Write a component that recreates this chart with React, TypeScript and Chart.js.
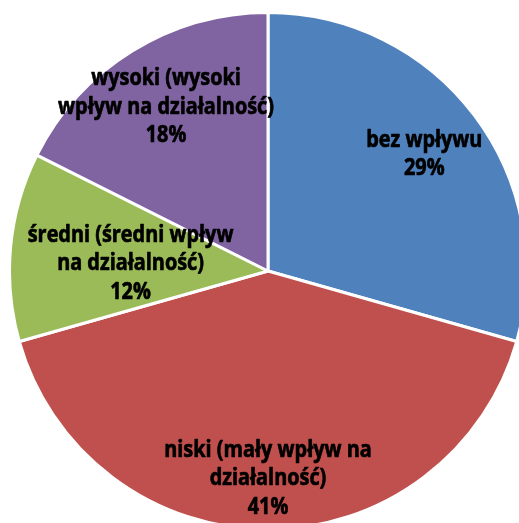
import React, { useEffect, useRef } from "react";
import { Chart, registerables } from "chart.js";

Chart.register(...registerables);

const categories = ["bez wpływu", "niski (mały wpływ na działalność)", "średni (średni wpływ na działalność)", "wysoki (wysoki wpływ na działalność)"];
const labelLines = [
  ["bez wpływu"],
  ["niski (mały wpływ na", "działalność)"],
  ["średni (średni wpływ", "na działalność)"],
  ["wysoki (wysoki", "wpływ na działalność)"],
];
const values = [29.4, 41.2, 11.8, 17.6];
const colors = ["#4F81BD", "#C0504D", "#9BBB59", "#8064A2"];

const labelOpts = {
  radius: [0.758, 0.798, 0.534, 0.751],
  dx: [0, 0, 0, 0],
  dy: [0, 0, 4, 0],
  font: "bold 23px 'Open Sans'",
  refText: "wpływ na działalność)",
  refWidth: 216,
  lineHeight: 28.5,
  capHeight: 16.4,
  strokeWidth: 0.6,
};

const labelPlugin = {
  id: "pieLabels",
  afterDatasetsDraw(chart: any) {
    const ctx = chart.ctx;
    const meta = chart.getDatasetMeta(0);
    const data = chart.data.datasets[0].data as number[];
    const total = data.reduce((a, b) => a + b, 0);
    ctx.save();
    ctx.font = labelOpts.font;
    const sx = labelOpts.refWidth / ctx.measureText(labelOpts.refText).width;
    ctx.fillStyle = "#000";
    ctx.strokeStyle = "#000";
    ctx.lineJoin = "round";
    ctx.textAlign = "center";
    ctx.textBaseline = "alphabetic";
    meta.data.forEach((arc: any, i: number) => {
      const p = arc.getProps(["x", "y", "startAngle", "endAngle", "outerRadius"], true);
      const mid = (p.startAngle + p.endAngle) / 2;
      const rr = p.outerRadius * labelOpts.radius[i];
      const cx = p.x + Math.cos(mid) * rr + labelOpts.dx[i];
      const cy = p.y + Math.sin(mid) * rr + labelOpts.dy[i];
      const lines = [...labelLines[i], Math.round((data[i] / total) * 100) + "%"];
      const n = lines.length;
      const firstMid = cy - ((n - 1) * labelOpts.lineHeight) / 2;
      lines.forEach((t, j) => {
        const y = firstMid + j * labelOpts.lineHeight + labelOpts.capHeight / 2;
        ctx.save();
        ctx.translate(cx, y);
        ctx.scale(sx, 1);
        ctx.lineWidth = labelOpts.strokeWidth / sx;
        ctx.fillText(t, 0, 0);
        ctx.strokeText(t, 0, 0);
        ctx.restore();
      });
    });
    ctx.restore();
  },
};

export default function App() {
  const ref = useRef<HTMLCanvasElement>(null);
  useEffect(() => {
    document.body.style.overflow = "hidden";
    const chart = new Chart(ref.current!, {
      type: "pie",
      data: {
        labels: categories,
        datasets: [
          {
            data: values,
            backgroundColor: colors,
            borderColor: "#ffffff",
            borderWidth: 3,
          },
        ],
      },
      options: {
        animation: false,
        responsive: false,
        maintainAspectRatio: false,
        layout: { padding: 0 },
        plugins: {
          legend: { display: false },
          tooltip: { enabled: false },
        },
      },
      plugins: [labelPlugin],
    });
    return () => chart.destroy();
  }, []);
  return (
    <div style={{ position: "fixed", left: 8, top: 11, width: 520, height: 520 }}>
      <canvas ref={ref} width={520} height={520} style={{ width: 520, height: 520 }} />
    </div>
  );
}
